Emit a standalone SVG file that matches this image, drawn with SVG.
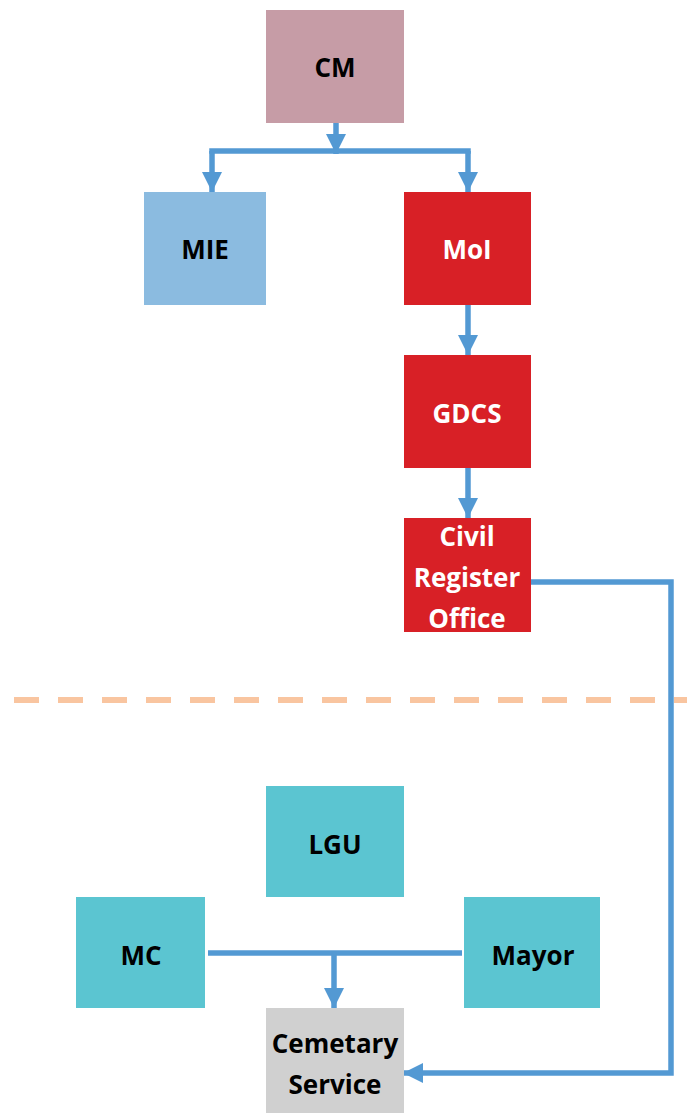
<svg xmlns="http://www.w3.org/2000/svg" width="687" height="1113" viewBox="0 0 687 1113">
  <defs>
    <marker id="arrow" markerUnits="userSpaceOnUse" markerWidth="20" markerHeight="20" viewBox="0 0 18 18" refX="18" refY="9" orient="auto">
      <path d="M0,0 L18,9 L0,18 Z" fill="#5399d3"/>
    </marker>
    <style>
      .box-cm { fill: #c69ca6; }
      .box-mie { fill: #8bbbe0; }
      .box-red { fill: #d82026; }
      .box-teal { fill: #5bc5d1; }
      .box-grey { fill: #d0d0d0; }
      .label { font-family: "Open Sans", "Liberation Sans", sans-serif; font-weight: bold; font-size: 26px; text-anchor: middle; }
      .dark { fill: #000000; }
      .light { fill: #ffffff; }
      .link { fill: none; stroke: #5399d3; stroke-width: 5.5; }
      .divider { fill: none; stroke: #f9c5a0; stroke-width: 6; stroke-dasharray: 25 19; }
    </style>
  </defs>
  <rect width="687" height="1113" fill="#ffffff"/>

  <!-- boundary between national and local level -->
  <line class="divider" x1="14" y1="700" x2="687" y2="700"/>

  <!-- connectors -->
  <g id="connectors">
    <path class="link" d="M336,123 V154" marker-end="url(#arrow)"/>
    <path class="link" d="M209.25,151 H470.75"/>
    <path class="link" d="M212,151 V192" marker-end="url(#arrow)"/>
    <path class="link" d="M468,151 V192" marker-end="url(#arrow)"/>
    <path class="link" d="M468,305 V355" marker-end="url(#arrow)"/>
    <path class="link" d="M468,468 V518" marker-end="url(#arrow)"/>
    <path class="link" d="M531,582 H671 V1073 H403" marker-end="url(#arrow)"/>
    <path class="link" d="M208,953 H462"/>
    <path class="link" d="M334,953 V1008" marker-end="url(#arrow)"/>
  </g>

  <g id="node-cm">
    <rect class="box-cm" x="266" y="10" width="138" height="113"/>
    <text class="label dark" x="335" y="77">CM</text>
  </g>
  <g id="node-mie">
    <rect class="box-mie" x="144" y="192" width="122" height="113"/>
    <text class="label dark" x="205" y="259">MIE</text>
  </g>
  <g id="node-moi">
    <rect class="box-red" x="404" y="192" width="127" height="113"/>
    <text class="label light" x="467" y="259">MoI</text>
  </g>
  <g id="node-gdcs">
    <rect class="box-red" x="404" y="355" width="127" height="113"/>
    <text class="label light" x="467" y="423">GDCS</text>
  </g>
  <g id="node-cro">
    <rect class="box-red" x="404" y="518" width="127" height="114"/>
    <text class="label light" x="467" y="546">Civil</text>
    <text class="label light" x="467" y="587">Register</text>
    <text class="label light" x="467" y="628">Office</text>
  </g>
  <g id="node-lgu">
    <rect class="box-teal" x="266" y="786" width="138" height="111"/>
    <text class="label dark" x="335" y="854">LGU</text>
  </g>
  <g id="node-mc">
    <rect class="box-teal" x="76" y="897" width="129" height="111"/>
    <text class="label dark" x="141" y="965">MC</text>
  </g>
  <g id="node-mayor">
    <rect class="box-teal" x="464" y="897" width="136" height="111"/>
    <text class="label dark" x="533" y="965">Mayor</text>
  </g>
  <g id="node-cemetary">
    <rect class="box-grey" x="266" y="1008" width="138" height="105"/>
    <text class="label dark" x="335" y="1053">Cemetary</text>
    <text class="label dark" x="335" y="1094">Service</text>
  </g>
</svg>
